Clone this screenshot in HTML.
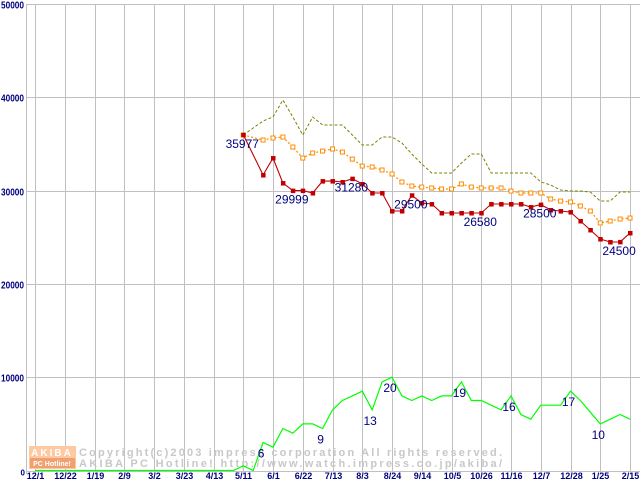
<!DOCTYPE html>
<html><head><meta charset="utf-8">
<style>
html,body{margin:0;padding:0;background:#fff;}
#wrap{position:relative;width:640px;height:480px;overflow:hidden;}
svg text{font-family:"Liberation Sans",sans-serif;}
</style></head>
<body>
<div id="wrap">
<svg id="chart" width="640" height="480" viewBox="0 0 640 480"></svg>
</div>
<script>
const xLabels = ["12/1","12/22","1/19","2/9","3/2","3/23","4/13","5/11","6/1","6/22","7/13","8/3","8/24","9/14","10/5","10/26","11/16","12/7","12/28","1/25","2/15"];
const yTicks = [0,10000,20000,30000,40000,50000];
const N = 61;
const minPrice = [null,null,null,null,null,null,null,null,null,null,null,null,null,null,null,null,null,null,null,null,null,
 35977,null,31670,33490,30810,29999,30000,29740,31020,31020,30920,31280,30710,29740,29740,27810,27810,29500,28670,28560,
 27600,27600,27600,27600,27600,28560,28560,28560,28560,28240,28500,27920,27810,27700,26740,25780,24810,24490,24500,25460];
const avgPrice = [null,null,null,null,null,null,null,null,null,null,null,null,null,null,null,null,null,null,null,null,null,
 35960,null,35420,35640,35740,34670,33490,34030,34240,34460,34130,33380,32630,32530,32210,31780,30920,30490,30380,30280,
 30170,30170,30710,30380,30280,30280,30280,29950,29740,29740,29740,29100,28880,28780,28350,27810,26530,26740,26950,27060];
const maxPrice = [null,null,null,null,null,null,null,null,null,null,null,null,null,null,null,null,null,null,null,null,null,
 35960,null,37460,37890,39710,37890,35960,37890,37030,37030,37030,35960,34890,34890,35750,35750,35100,33920,32850,31890,
 31890,31890,32960,33920,33920,31890,31890,31890,31890,31890,30920,30600,30060,29960,29960,29850,28880,28880,29850,29850];
const shopCount = [0,0,0,0,0,0,0,0,0,0,0,0,0,0,0,0,0,0,0,0,0,
 1,0,6,5,9,8,10,10,9,13,15,16,17,13,19,20,16,15,16,15,
 16,16,19,15,15,14,13,16,12,11,14,14,14,17,15,12.5,10,11,12,11];
const priceLabelIdx = [21,26,32,38,45,51,59];
const priceLabelTxt = ["35977","29999","31280","29500","26580","28500","24500"];
const countLabelIdx = [23,29,34,36,43,48,54,57];
const countLabelTxt = ["6","9","13","20","19","16","17","10"];
const COUNT_SCALE = 500;

const svg = document.getElementById('chart');
const NS = 'http://www.w3.org/2000/svg';
const X0 = 35, XSTEP = 29.75/3, Y0 = 470.5, YTOP = 4, YMAX = 50000;
function xs(i){ return X0 + i*XSTEP; }
function ys(v){ return Y0 - v/YMAX*(Y0-YTOP); }
function mk(tag, attrs){ const e=document.createElementNS(NS,tag); for(const k in attrs) e.setAttribute(k,attrs[k]); svg.appendChild(e); return e; }

// grid
for(let i=0;i<yTicks.length;i++){
  const y = Math.round(ys(yTicks[i]))+0.5;
  const l = mk('line',{x1:26,x2:640,y1:y,y2:y,stroke:'#c0c0c0','stroke-width':1});
  
  
  const attrs = {x:25,y:y+4,'text-anchor':'end','font-size':(yTicks[i]===0?8:10),'font-weight':'bold',fill:'#000080'};
  if(yTicks[i]!==0){ attrs.x=1; attrs['text-anchor']='start'; attrs.textLength=23; attrs.lengthAdjust='spacingAndGlyphs'; }
  const t = mk('text',attrs);
  t.textContent = yTicks[i];
  
  
}
const ax = mk('line',{x1:26.5,x2:26.5,y1:4,y2:474,stroke:'#c0c0c0','stroke-width':1});


for(let j=0;j<xLabels.length;j++){
  const x = Math.round(xs(j*3))+0.5;
  const l = mk('line',{x1:x,x2:x,y1:4,y2:474,stroke:'#c0c0c0','stroke-width':1});
  
  
  const t = mk('text',{x:x,y:479,'text-anchor':'middle','font-size':9,'font-weight':'bold',fill:'#000080'});
  t.textContent = xLabels[j];
  
  
}

// watermark
const logo = mk('rect',{x:29,y:446,width:47,height:23,fill:'#ffc8a0'});


const logo2 = mk('rect',{x:30,y:458,width:45,height:10,fill:'#f0a070'});


const lt1 = mk('text',{x:52,y:456,'text-anchor':'middle','font-size':10,'font-weight':'bold',fill:'#fff','letter-spacing':'2'});
lt1.textContent='AKIBA';


const lt2 = mk('text',{x:52,y:466,'text-anchor':'middle','font-size':7,'font-weight':'bold',fill:'#fff'});
lt2.textContent='PC Hotline!';


const c1 = mk('text',{x:79,y:456,'font-size':11,'font-weight':'bold',fill:'#c8c8c8','font-family':'Liberation Mono, monospace','textLength':423});
c1.textContent='Copyright(c)2003 impress corporation All rights reserved.';


const c2 = mk('text',{x:79,y:467,'font-size':11,'font-weight':'bold',fill:'#c8c8c8','font-family':'Liberation Mono, monospace','textLength':423});
c2.textContent='AKIBA PC Hotline!  http://www.watch.impress.co.jp/akiba/';



function pathOf(arr, scale){
  let d='';
  for(let i=0;i<arr.length;i++){ if(arr[i]===null) continue; d += (d?'L':'M') + xs(i).toFixed(1)+' '+ys(arr[i]*scale).toFixed(1)+' '; }
  return d;
}
// series
const gl = mk('path',{d:pathOf(shopCount,COUNT_SCALE),fill:'none',stroke:'#00ff00','stroke-width':1.2});


const ol = mk('path',{d:pathOf(maxPrice,1),fill:'none',stroke:'#808000','stroke-width':1,'stroke-dasharray':'3 2'});


const al = mk('path',{d:pathOf(avgPrice,1),fill:'none',stroke:'#ff8c00','stroke-width':1.2,'stroke-dasharray':'2 2'});


for(let i=0;i<N;i++){ if(avgPrice[i]===null) continue;
  const r = mk('rect',{x:xs(i)-2,y:ys(avgPrice[i])-2,width:4,height:4,fill:'#fff',stroke:'#ff8c00','stroke-width':1});
  
  
}
const rl = mk('path',{d:pathOf(minPrice,1),fill:'none',stroke:'#c00000','stroke-width':1.1});


for(let i=0;i<N;i++){ if(minPrice[i]===null) continue;
  const r = mk('rect',{x:xs(i)-2,y:ys(minPrice[i])-2,width:4.5,height:4.5,fill:'#c00000'});
  
  
}
// labels
for(let k=0;k<priceLabelIdx.length;k++){
  const i=priceLabelIdx[k];
  const t = mk('text',{x:xs(i)-1,y:ys(minPrice[i])+13,'text-anchor':'middle','font-size':12,fill:'#000080'});
  t.textContent = priceLabelTxt[k];
  
  
}
for(let k=0;k<countLabelIdx.length;k++){
  const i=countLabelIdx[k];
  const t = mk('text',{x:xs(i)-2,y:ys(shopCount[i]*COUNT_SCALE)+15,'text-anchor':'middle','font-size':12,fill:'#000080'});
  t.textContent = countLabelTxt[k];
  
  
}
</script>
</body></html>
